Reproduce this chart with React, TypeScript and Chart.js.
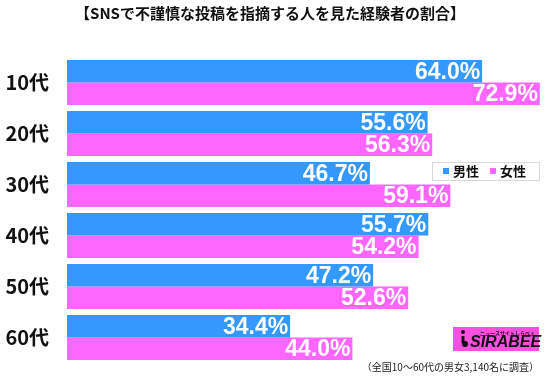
import React, { useEffect, useRef } from "react";
import { Chart, registerables } from "chart.js";

Chart.register(...registerables);

const categories = ["10代", "20代", "30代", "40代", "50代", "60代"];
const maleValues = [64.0, 55.6, 46.7, 55.7, 47.2, 34.4];
const femaleValues = [72.9, 56.3, 59.1, 54.2, 52.6, 44.0];
const seriesNames = ["男性", "女性"];
const titleText = "【SNSで不謹慎な投稿を指摘する人を見た経験者の割合】";
const noteText = "（全国10～60代の男女3,140名に調査）";

const BLUE = "#3399FF";
const PINK = "#FF66FF";
const JP = '"Noto Sans CJK JP", "Noto Sans", sans-serif';
const NUM = '"Liberation Sans", Arial, sans-serif';
const NARROW = '"Liberation Sans Narrow", "Liberation Sans", sans-serif';

const overlayPlugin = {
  id: "overlay",
  afterDatasetsDraw(chart: any) {
    const ctx = chart.ctx;
    ctx.save();
    ctx.font = `bold 23px ${NARROW}`;
    ctx.fillStyle = "#ffffff";
    ctx.textAlign = "right";
    ctx.textBaseline = "middle";
    chart.data.datasets.forEach((ds: any, di: number) => {
      const meta = chart.getDatasetMeta(di);
      meta.data.forEach((el: any, i: number) => {
        const v = ds.data[i];
        ctx.fillText(v.toFixed(1) + "%", el.x - 2, el.y + 1);
      });
    });
    ctx.restore();
  },
  afterDraw(chart: any) {
    const ctx = chart.ctx;
    ctx.save();
    // title
    ctx.font = `bold 15px ${JP}`;
    ctx.fillStyle = "#111";
    ctx.textAlign = "center";
    ctx.textBaseline = "middle";
    ctx.fillText(titleText, 270, 13);

    // legend
    const lx = 432, ly = 162, lw = 107, lh = 18;
    ctx.fillStyle = "#fff";
    ctx.fillRect(lx, ly, lw, lh);
    ctx.strokeStyle = "#d8d8d8";
    ctx.lineWidth = 1;
    ctx.strokeRect(lx + 0.5, ly + 0.5, lw, lh);
    ctx.font = `bold 13px ${JP}`;
    ctx.textAlign = "left";
    ctx.textBaseline = "middle";
    ctx.fillStyle = BLUE;
    ctx.fillRect(443, 168, 6, 6);
    ctx.fillStyle = "#111";
    ctx.fillText(seriesNames[0], 453, 171);
    ctx.fillStyle = PINK;
    ctx.fillRect(490, 168, 6, 6);
    ctx.fillStyle = "#111";
    ctx.fillText(seriesNames[1], 500, 171);

    // logo
    ctx.fillStyle = "#FF4FE0";
    ctx.fillRect(453, 327, 86, 24);
    ctx.fillStyle = "#111";
    ctx.font = `italic bold 16px ${NUM}`;
    ctx.textAlign = "left";
    ctx.textBaseline = "alphabetic";
    ctx.fillText("SIRABEE", 470, 347);
    ctx.font = `bold 5px ${JP}`;
    ctx.fillText("ニュースサイトしらべぇ", 480, 335);
    // i-icon
    ctx.beginPath();
    ctx.arc(463, 332, 2, 0, Math.PI * 2);
    ctx.fill();
    ctx.lineWidth = 3;
    ctx.strokeStyle = "#111";
    ctx.beginPath();
    ctx.moveTo(463, 336);
    ctx.lineTo(463, 343);
    ctx.stroke();
    ctx.beginPath();
    ctx.arc(465, 344, 3, 0, Math.PI * 2);
    ctx.fill();

    // note
    ctx.font = `10px ${JP}`;
    ctx.fillStyle = "#222";
    ctx.textAlign = "right";
    ctx.textBaseline = "middle";
    ctx.fillText(noteText, 539, 367);
    ctx.restore();
  },
};

export default function App() {
  const ref = useRef<HTMLCanvasElement>(null);
  useEffect(() => {
    if (!ref.current) return;
    const chart = new Chart(ref.current, {
      type: "bar",
      data: {
        labels: categories,
        datasets: [
          { label: seriesNames[0], data: maleValues, backgroundColor: BLUE, borderWidth: 0 },
          { label: seriesNames[1], data: femaleValues, backgroundColor: PINK, borderWidth: 0 },
        ],
      },
      options: {
        indexAxis: "y",
        responsive: false,
        animation: false,
        layout: { padding: { top: 57, bottom: 18, right: 3, left: 0 } },
        datasets: { bar: { categoryPercentage: 0.887, barPercentage: 1 } },
        plugins: { legend: { display: false }, tooltip: { enabled: false }, title: { display: false } },
        scales: {
          x: { display: false, min: 0, max: 74 },
          y: {
            grid: { display: false, drawTicks: false },
            border: { display: false },
            ticks: { color: "#111", font: { family: JP, size: 20, weight: "bold" }, padding: 18 },
            afterFit: (scale: any) => { scale.width = 67; scale.paddingTop = 0; scale.paddingBottom = 0; },
          },
        },
      },
      plugins: [overlayPlugin],
    });
    return () => chart.destroy();
  }, []);
  return (
    <div style={{ position: "fixed", left: 0, top: 0, width: 550, height: 381, background: "#fff" }}>
      <canvas ref={ref} width={550} height={381} style={{ width: 550, height: 381 }} />
    </div>
  );
}
